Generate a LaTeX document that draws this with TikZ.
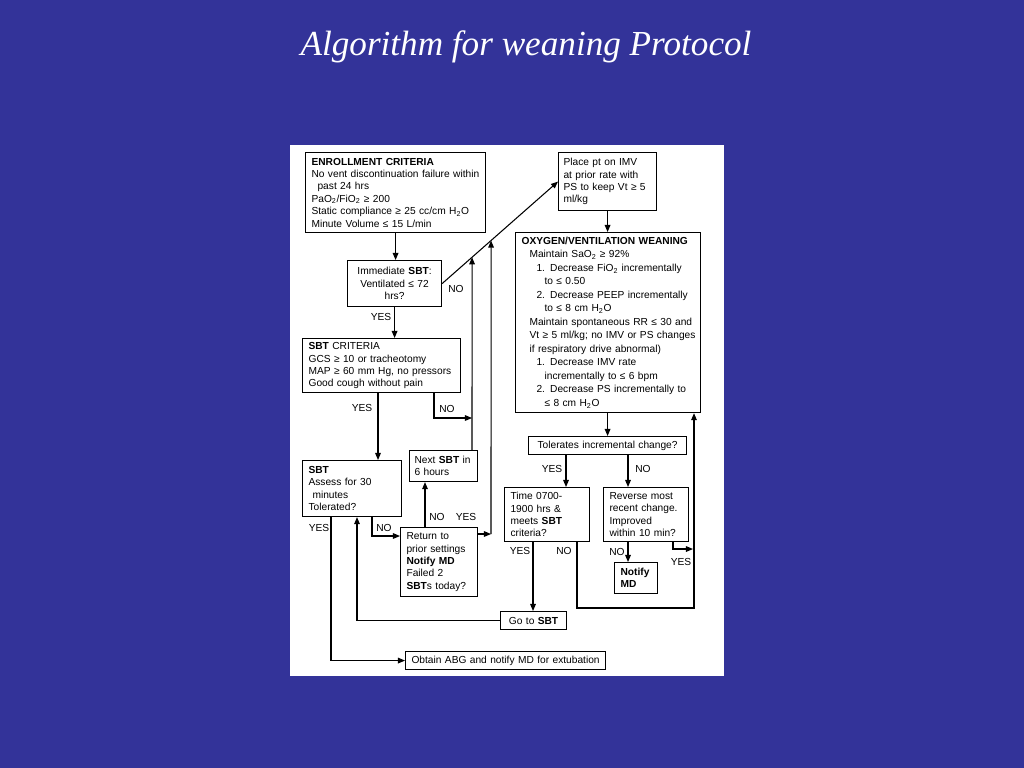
\documentclass[tikz,border=0pt]{standalone}
\usepackage{fontspec}
\setmainfont{Liberation Sans}
\newfontfamily\titlefont{Liberation Serif}
\usetikzlibrary{arrows.meta}
\definecolor{slideblue}{RGB}{51,51,153}
\newcommand{\flowfont}{\fontsize{7.25}{8.8}\selectfont}
\tikzset{
  box/.style={draw, line width=0.8pt, anchor=north west, align=left, inner ysep=0.1cm, inner xsep=0.15cm, font=\flowfont},
  cbox/.style={box, align=center, inner xsep=0.05cm, inner ysep=0pt},
  lbl/.style={font=\flowfont, inner sep=1pt},
  arr/.style={-{Triangle[length=5pt,width=4pt]}, line width=0.75pt}
}
\begin{document}
\begin{tikzpicture}[x=0.025cm, y=-0.025cm]
\fill[slideblue] (0,0) rectangle (1024,768);
\node[font=\titlefont\itshape\fontsize{25}{30}\selectfont, text=white] (title) at (526,47) {Algorithm for weaning Protocol};
\fill[white] (290,145) rectangle (724,676);

\node[box, text width=4.2cm, minimum height=2cm] (enroll) at (305,152) {\textbf{ENROLLMENT CRITERIA}\\
\mbox{No vent discontinuation failure within}\\
\hspace*{0.15cm}past 24 hrs\\
PaO\textsubscript{2}/FiO\textsubscript{2} ≥ 200\\
Static compliance ≥ 25 cc/cm H\textsubscript{2}O\\
Minute Volume ≤ 15 L/min};
\node[cbox, text width=2.25cm, minimum height=1.15cm] (imm) at (347,260) {Immediate \textbf{SBT}:\\ Ventilated ≤ 72\\ hrs?};
\node[box, inner xsep=0.125cm, text width=2.2cm, minimum height=1.45cm] (imv) at (558,152) {Place pt on IMV\\ at prior rate with\\ \mbox{PS to keep Vt ≥ 5}\\ ml/kg};
\node[box, text width=4.325cm, minimum height=4.5cm, font=\fontsize{7.25}{9.6}\selectfont] (oxy) at (515,232) {\textbf{OXYGEN/VENTILATION WEANING}\\
\hspace*{0.2cm}Maintain SaO\textsubscript{2} ≥ 92\%\\
\hspace*{0.375cm}1. Decrease FiO\textsubscript{2} incrementally\\
\hspace*{0.575cm}to ≤ 0.50\\
\hspace*{0.375cm}2. Decrease PEEP incrementally\\
\hspace*{0.575cm}to ≤ 8 cm H\textsubscript{2}O\\
\mbox{\hspace*{0.2cm}Maintain spontaneous RR ≤ 30 and}\\
\mbox{\hspace*{0.2cm}Vt ≥ 5 ml/kg; no IMV or PS changes}\\
\hspace*{0.2cm}if respiratory drive abnormal)\\
\hspace*{0.375cm}1. Decrease IMV rate\\
\hspace*{0.575cm}incrementally to ≤ 6 bpm\\
\mbox{\hspace*{0.375cm}2. Decrease PS incrementally to}\\
\hspace*{0.575cm}≤ 8 cm H\textsubscript{2}O};
\node[cbox, text width=3.85cm, minimum height=0.45cm] (tol) at (528,436) {Tolerates incremental change?};
\node[box, inner ysep=0.06cm, text width=1.825cm, minimum height=1.35cm] (time) at (504,487) {Time 0700-\\ 1900 hrs \&\\ meets \textbf{SBT}\\ criteria?};
\node[box, inner ysep=0.06cm, text width=1.825cm, minimum height=1.35cm] (rev) at (603,487) {Reverse most\\ recent change.\\ Improved\\ \mbox{within 10 min?}};
\node[box, text width=0.775cm, minimum height=0.775cm] (notify) at (614,562) {\textbf{Notify}\\ \textbf{MD}};
\node[box, text width=3.65cm, minimum height=1.35cm] (sbtcrit) at (302,338) {\textbf{SBT} CRITERIA\\ GCS ≥ 10 or tracheotomy\\ \mbox{MAP ≥ 60 mm Hg, no pressors}\\ Good cough without pain};
\node[box, text width=2.175cm, minimum height=1.4cm] (sbt) at (302,460) {\textbf{SBT}\\ Assess for 30\\ \hspace*{0.1cm}minutes\\ Tolerated?};
\node[box, inner xsep=0.125cm, text width=1.45cm, minimum height=0.775cm] (nextsbt) at (409,450) {\mbox{Next \textbf{SBT} in}\\ 6 hours};
\node[box, text width=1.625cm, minimum height=1.725cm] (ret) at (400,527) {Return to\\ prior settings\\ \textbf{Notify MD}\\ Failed 2\\ \mbox{\textbf{SBT}s today?}};
\node[cbox, text width=1.55cm, minimum height=0.45cm] (goto) at (500,611) {Go to \textbf{SBT}};
\node[cbox, text width=4.9cm, minimum height=0.45cm] (abg) at (405,651) {Obtain ABG and notify MD for extubation};

\coordinate (n1) at (472,418);
\coordinate (n1up) at (472,300);
\coordinate (n2) at (491,534);
\coordinate (n2up) at (491,300);
\coordinate (x1) at (intersection of imm.east--imv.west and n1--n1up);
\coordinate (x2) at (intersection of imm.east--imv.west and n2--n2up);
\coordinate (c1) at (434,418);
\coordinate (c2) at (425,500);
\coordinate (c3) at (372,536);
\coordinate (c4) at (331,660);
\coordinate (c5) at (357,619);
\coordinate (c6) at (533,575);
\coordinate (c7) at (577,608);
\coordinate (c8) at (694,608);
\coordinate (c9) at (673,549);
\coordinate (c10) at (693,549);
\coordinate (c11) at (628,470);
\coordinate (c12) at (566,470);
\coordinate (c13) at (378,420);

\draw[arr] (enroll.south) -- (enroll.south |- imm.north);
\draw[arr] (imm.east) -- (imv.west);
\draw[arr] (imm.south) -- (imm.south |- sbtcrit.north);
\draw[arr] (imv.south) -- (imv.south |- oxy.north);
\draw[arr] (oxy.south -| imv.south) -- (tol.north -| imv.south);
\draw[arr] (tol.south -| c12) -- (time.north -| c12);
\draw[arr] (tol.south -| c11) -- (rev.north -| c11);
\draw[arr] (rev.south -| c11) -- (notify.north -| c11);
\draw[arr] (rev.south -| c9) -- (c9) -- (c10);
\draw[arr] (time.south -| c7) -- (c7) -- (c8) -- (oxy.south -| c8);
\draw[arr] (time.south -| c6) -- (goto.north -| c6);
\draw[arr] (goto.west) -- (goto.west -| c5) -- (sbt.south -| c5);
\draw[arr] (sbtcrit.south -| c13) -- (sbt.north -| c13);
\draw[arr] (sbtcrit.south -| c1) -- (c1) -- (n1);
\draw[arr] (nextsbt.north -| n1) -- (x1);
\draw[arr] (ret.north -| c2) -- (nextsbt.south -| c2);
\draw[arr] (ret.east |- n2) -- (n2);
\draw[arr] (n2) -- (x2);
\draw[arr] (sbt.south -| c3) -- (c3) -- (ret.west |- c3);
\draw[arr] (sbt.south -| c4) -- (abg.west -| c4) -- (abg.west);

\node[lbl] (noimm) at (456,289) {NO};
\node[lbl] (yesimm) at (381,317) {YES};
\node[lbl] (yescrit) at (362,408) {YES};
\node[lbl] (nocrit) at (447,409) {NO};
\node[lbl] (yessbt) at (319,528) {YES};
\node[lbl] (nosbt) at (384,528) {NO};
\node[lbl] (noret) at (437,517) {NO};
\node[lbl] (yesret) at (466,517) {YES};
\node[lbl] (yestol) at (552,469) {YES};
\node[lbl] (notol) at (643,469) {NO};
\node[lbl] (yestime) at (520,551) {YES};
\node[lbl] (notime) at (564,551) {NO};
\node[lbl] (norev) at (617,552) {NO};
\node[lbl] (yesrev) at (681,562) {YES};
\end{tikzpicture}
\end{document}
